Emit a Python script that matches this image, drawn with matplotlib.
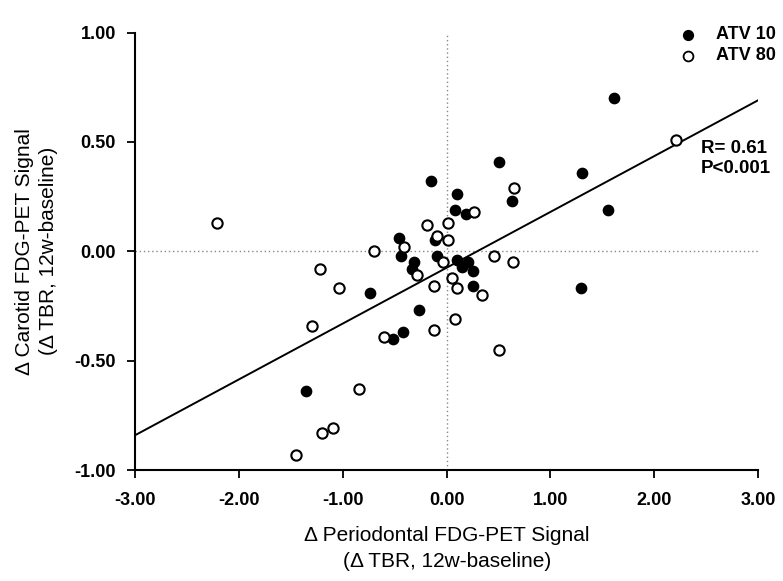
import matplotlib
matplotlib.use('Agg')
import matplotlib.pyplot as plt
import numpy as np

plt.rcParams['font.family'] = ['Liberation Sans', 'DejaVu Sans']

# ATV 10 (filled circles)
atv10_x = [-1.36, -0.74, -0.52, -0.42, -0.27, -0.46, -0.44, -0.32, -0.33, -0.15,
           -0.11, -0.09, 0.08, 0.10, 0.19, 0.10, 0.15, 0.21, 0.25, 0.25,
           0.50, 0.63, 1.29, 1.30, 1.55, 1.61]
atv10_y = [-0.64, -0.19, -0.40, -0.37, -0.27, 0.06, -0.02, -0.05, -0.08, 0.32,
           0.05, -0.02, 0.19, 0.26, 0.17, -0.04, -0.07, -0.05, -0.09, -0.16,
           0.41, 0.23, -0.17, 0.36, 0.19, 0.70]

# ATV 80 (open circles)
atv80_x = [-2.21, -1.45, -1.30, -1.22, -1.20, -1.10, -1.04, -0.85, -0.70, -0.60,
           -0.41, -0.29, -0.19, -0.12, -0.12, -0.09, -0.04, 0.01, 0.01, 0.05,
           0.08, 0.10, 0.26, 0.34, 0.46, 0.50, 0.64, 0.65, 2.21]
atv80_y = [0.13, -0.93, -0.34, -0.08, -0.83, -0.81, -0.17, -0.63, 0.00, -0.39,
           0.02, -0.11, 0.12, -0.16, -0.36, 0.07, -0.05, 0.13, 0.05, -0.12,
           -0.31, -0.17, 0.18, -0.20, -0.02, -0.45, -0.05, 0.29, 0.51]

# regression line
fit_slope = 0.255
fit_intercept = -0.075

x_ticks = [-3, -2, -1, 0, 1, 2, 3]
y_ticks = [-1, -0.5, 0, 0.5, 1]

fig = plt.figure(figsize=(7.83, 5.81), dpi=100)
ax = fig.add_axes([0.173, 0.191, 0.795, 0.753])

ax.axhline(0, color='#888888', linestyle=(0, (1, 2)), linewidth=1, zorder=1)
ax.axvline(0, color='#888888', linestyle=(0, (1, 2)), linewidth=1, zorder=1)

xl = np.array([-3, 3])
ax.plot(xl, fit_slope * xl + fit_intercept, color='black', linewidth=1.4, zorder=2)

ax.scatter(atv10_x, atv10_y, s=55, color='black', zorder=3, clip_on=False)
ax.scatter(atv80_x, atv80_y, s=55, facecolor='white', edgecolor='black',
           linewidth=1.5, zorder=4, clip_on=False)

ax.set_xlim(-3, 3)
ax.set_ylim(-1, 1)
ax.set_xticks(x_ticks)
ax.set_yticks(y_ticks)
ax.set_xticklabels([f'{v:.2f}' for v in x_ticks], fontsize=13, fontweight='bold')
ax.set_yticklabels([f'{v:.2f}' for v in y_ticks], fontsize=13, fontweight='bold')
ax.tick_params(direction='out', length=6, width=1.3)
ax.tick_params(axis='x', pad=10)
ax.tick_params(axis='y', pad=8)

for side in ['top', 'right']:
    ax.spines[side].set_visible(False)
for side in ['left', 'bottom']:
    ax.spines[side].set_linewidth(1.5)

ax.set_xlabel('\u0394 Periodontal FDG-PET Signal\n(\u0394 TBR, 12w-baseline)',
              fontsize=15, labelpad=12, linespacing=1.45)
ax.set_ylabel('\u0394 Carotid FDG-PET Signal\n(\u0394 TBR, 12w-baseline)',
              fontsize=15, labelpad=12, linespacing=1.3)

ax.scatter([2.33], [0.99], s=50, color='black', clip_on=False)
ax.scatter([2.33], [0.895], s=50, facecolor='white', edgecolor='black',
           linewidth=1.3, clip_on=False)
ax.text(2.6, 0.99, 'ATV 10', fontsize=13, fontweight='bold', va='center')
ax.text(2.6, 0.895, 'ATV 80', fontsize=13, fontweight='bold', va='center')

ax.text(2.45, 0.425, 'R= 0.61\nP<0.001', fontsize=13.5, fontweight='bold',
        va='center', linespacing=1.2)

fig.savefig('out.png', dpi=100)
